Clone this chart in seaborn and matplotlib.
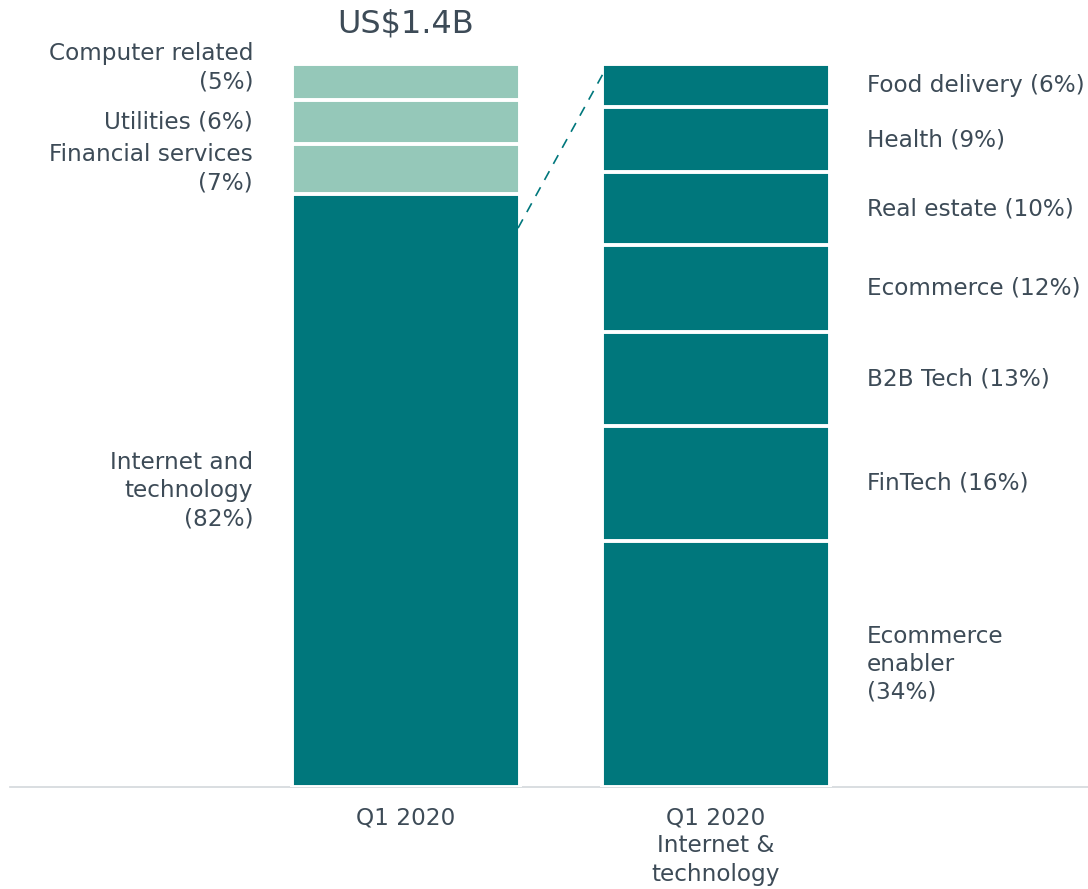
import matplotlib
matplotlib.use("Agg")
import matplotlib.pyplot as plt
import seaborn as sns
import numpy as np

# data
bars = ["Q1 2020", "Q1 2020\nInternet &\ntechnology"]
left_labels = ["Internet and\ntechnology", "Financial services", "Utilities", "Computer related"]
left_values = [82, 7, 6, 5]
right_labels = ["Ecommerce\nenabler", "FinTech", "B2B Tech", "Ecommerce", "Real estate", "Health", "Food delivery"]
right_values = [34, 16, 13, 12, 10, 9, 6]
total_label = "US$1.4B"

dark = "#00777c"
light = "#95c8b9"
txt = "#3d4b57"

sns.set_theme(style="white")
plt.rcParams["font.family"] = ["DejaVu Sans"]

fig = plt.figure(figsize=(10.88, 8.89), dpi=100)
ax = fig.add_axes([10 / 1088, 102 / 889, 1078 / 1088, 723 / 889])

lw = 2.8
width = (224 + lw * 1.39) / 310
half = 224 / 310 / 2
fs = 16.7
ls = 1.28

def stack(i, values, colors):
    tops = np.cumsum(values)
    # draw tallest first so each shorter bar sits on top
    for top, c in list(zip(tops, colors))[::-1]:
        sns.barplot(x=[bars[i]], y=[top], order=bars, color=c, width=width,
                    edgecolor="white", linewidth=lw, saturation=1, ax=ax)
    return tops

ltops = stack(0, left_values, [dark, light, light, light])
rtops = stack(1, right_values, [dark] * len(right_values))

# left labels (right aligned)
lcent = ltops - np.array(left_values) / 2
for k, (lab, v, yc) in enumerate(zip(left_labels, left_values, lcent)):
    s = f"{lab}\n({v}%)" if k != 2 else f"{lab} ({v}%)"
    if k == 3:
        yc += 2
    ax.text(-half - 0.132, yc, s, ha="right", va="center", fontsize=fs,
            color=txt, linespacing=ls)

# right labels (left aligned)
rcent = rtops - np.array(right_values) / 2
for k, (lab, v, yc) in enumerate(zip(right_labels, right_values, rcent)):
    s = f"{lab}\n({v}%)" if k == 0 else f"{lab} ({v}%)"
    ax.text(1 + half + 0.126, yc, s, ha="left", va="center", fontsize=fs,
            color=txt, linespacing=ls)

ax.text(0, 103.4, total_label, ha="center", va="bottom", fontsize=23, color=txt)

# dashed connector
ax.plot([half, 1 - half], [77.3, 98.9], ls=(0, (6, 5)), lw=1.2, color=dark)

ax.set_xlim(-396 / 310, 1 + 372 / 310)
ax.set_ylim(0, 100)
ax.set_xlabel("")
ax.set_ylabel("")
ax.set_yticks([])
ax.tick_params(axis="x", length=0, pad=14, labelsize=fs, labelcolor=txt)
for t in ax.get_xticklabels():
    t.set_linespacing(ls)
for sp in ["top", "left", "right"]:
    ax.spines[sp].set_visible(False)
ax.spines["bottom"].set_color("#d3d8dc")
ax.spines["bottom"].set_linewidth(1.2)
ax.spines["bottom"].set_zorder(0)

fig.savefig("out.png", dpi=100)
